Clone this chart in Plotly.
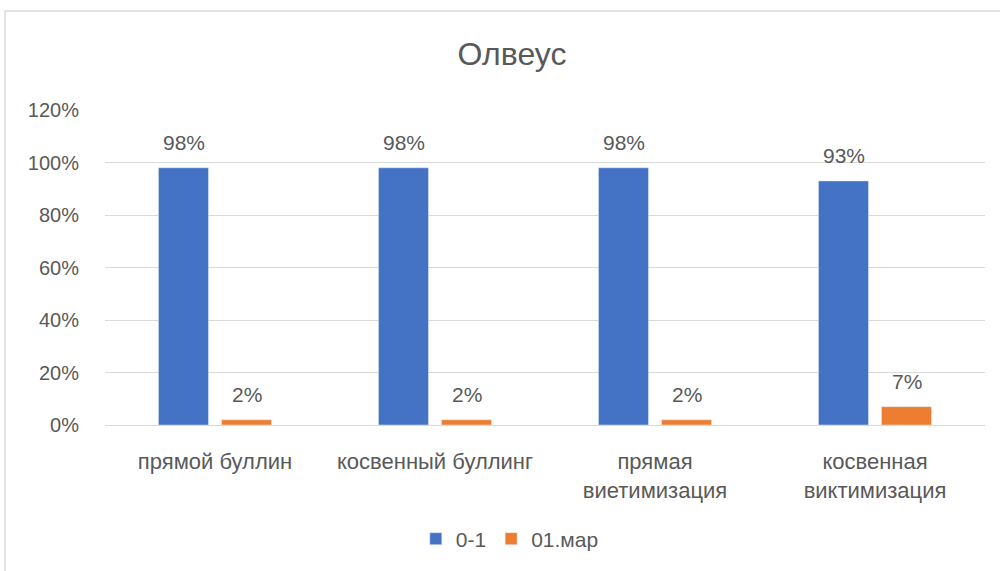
import plotly.graph_objects as go

categories = ["прямой буллин", "косвенный буллинг", "прямая<br>виетимизация", "косвенная<br>виктимизация"]
series_names = ["0-1", "01.мар"]
values_a = [0.98, 0.98, 0.98, 0.93]
values_b = [0.02, 0.02, 0.02, 0.07]
labels_a = ["98%", "98%", "98%", "93%"]
labels_b = ["2%", "2%", "2%", "7%"]
y_ticks = [0, 0.2, 0.4, 0.6, 0.8, 1.0, 1.2]

BLUE = "#4472C4"
ORANGE = "#ED7D31"
TXT = "#595959"
FONT = "Liberation Sans"

fig = go.Figure()
fig.add_trace(go.Bar(x=categories, y=values_a, name=series_names[0], marker_color=BLUE))
fig.add_trace(go.Bar(x=categories, y=values_b, name=series_names[1], marker_color=ORANGE))

for vals, labs, xs in [(values_a, labels_a, -31.5), (values_b, labels_b, 31.5)]:
    for c, v, t in zip(categories, vals, labs):
        fig.add_annotation(x=c, y=v, text=t, showarrow=False, xshift=xs, yshift=12,
                           yanchor="bottom", font=dict(family=FONT, size=21, color=TXT))

fig.add_shape(type="rect", xref="paper", yref="paper", x0=-0.1136, x1=1.03, y0=-0.5, y1=1.3145,
              line=dict(color="#D9D9D9", width=1.5), fillcolor="rgba(0,0,0,0)", layer="below")

fig.update_layout(
    width=1000, height=571,
    margin=dict(l=105, r=15, t=110, b=143),
    paper_bgcolor="white", plot_bgcolor="white",
    font=dict(family=FONT, color=TXT, size=20),
    title=dict(text="Олвеус", x=0.512, xanchor="center", y=0.905, yanchor="middle",
               font=dict(family=FONT, size=32, color=TXT)),
    barmode="group", bargap=0.427, bargroupgap=0.206,
    showlegend=True,
    legend=dict(orientation="h", x=0.46, xanchor="center", y=-0.362, yanchor="middle",
                font=dict(family=FONT, size=21, color=TXT)),
    xaxis=dict(showgrid=False, showline=False, ticks="", ticklabelstandoff=21,
               tickfont=dict(family=FONT, size=22, color=TXT)),
    yaxis=dict(range=[0, 1.2], tickvals=y_ticks, tickformat=".0%", showgrid=True,
               gridcolor="#D9D9D9", gridwidth=1, zeroline=True, zerolinecolor="#D9D9D9",
               zerolinewidth=1, showline=False, ticks="", ticklabelstandoff=25,
               tickfont=dict(family=FONT, size=20, color=TXT)),
)

fig.write_html("out.html", config={"displayModeBar": False},
               post_script="document.body.style.margin='0';document.body.style.overflow='hidden';")
